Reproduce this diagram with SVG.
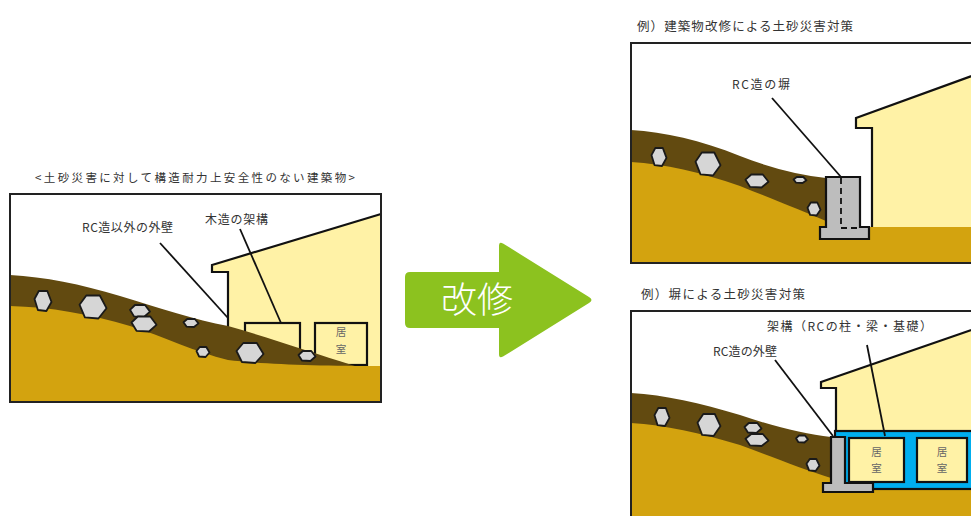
<svg xmlns="http://www.w3.org/2000/svg" width="971" height="516" viewBox="0 0 971 516">
<style>
.box{fill:none;stroke:#222;stroke-width:2}
.house{fill:#fff2a6}
.outline{fill:none;stroke:#111;stroke-width:2.2;stroke-linejoin:miter}
.dark{fill:#624a10}
.ground{fill:#d3a30f}
.rock{fill:#d6d6d6;stroke:#1a1a1a;stroke-width:1.8;stroke-linejoin:round}
.room{fill:#fff2a6;stroke:#111;stroke-width:2.2}
.wall{fill:#bdbdbd;stroke:#111;stroke-width:2.2;stroke-linejoin:miter}
.lead{stroke:#111;stroke-width:1.8;fill:none}
.lbl{font-family:"Noto Sans CJK JP","Noto Sans",sans-serif;font-size:12px;fill:#333}
.rm{font-family:"Noto Sans CJK JP","Noto Sans",sans-serif;font-size:10.5px;fill:#666;text-anchor:middle}
</style>

<rect x="0" y="0" width="971" height="516" fill="#ffffff"/>

<!-- Left panel -->
<g id="panel-left">
  <text class="lbl" x="35" y="182" textLength="320" lengthAdjust="spacing" style="font-size:11.5px">&lt;土砂災害に対して構造耐力上安全性のない建築物&gt;</text>
  <g id="left-house">
    <path class="house" d="M212,265 L381,214 L381,368 L228,368 L228,272 L212,272 Z"/>
    <path class="outline" d="M228,335 L228,272 L212,272 L212,265 L381,214"/>
  </g>
  <g id="left-room1"><rect class="room" x="245" y="323" width="55" height="32"/></g>
  <g id="left-room2">
    <rect class="room" x="315" y="323" width="52" height="42"/>
    <text class="rm" x="341" y="336">居</text>
    <text class="rm" x="341" y="353">室</text>
  </g>
  <path class="dark" d="M10,275 C45,277 80,284 120,296 C160,308 195,320 228,326 C270,338 310,352 355,366 L381,368 L381,402 L10,402 Z"/>
  <path class="ground" d="M10,306 C50,307 90,314 130,326 C165,337 195,352 228,360 C260,364 320,366 381,366 L381,402 L10,402 Z"/>
  <g id="left-rocks">
    <polygon class="rock" points="34.5,299 38.8,291 47.3,291 51.5,302 46.4,311 37.9,310"/>
    <polygon class="rock" points="79.5,304.7 86.3,295.5 99.8,295.5 106.5,308.2 98.4,318.5 84.9,317.4"/>
    <polygon class="rock" points="130,309.8 135,305 145,305 150,311.6 144,317 134,316.4"/>
    <polygon class="rock" points="131.5,322.5 137.8,316.5 150.3,316.5 156.5,324.8 149,331.5 136.5,330.8"/>
    <polygon class="rock" points="183.5,322.2 187.3,319 194.8,319 198.5,323.4 194,327 186.5,326.6"/>
    <polygon class="rock" points="196.5,351 199.8,347 206.3,347 209.5,352.5 205.6,357 199.1,356.5"/>
    <polygon class="rock" points="236.5,351 243.3,343 256.8,343 263.5,354 255.4,363 241.9,362"/>
    <polygon class="rock" points="298.5,355 302.8,351 311.3,351 315.5,356.5 310.4,361 301.9,360.5"/>
  </g>
  <rect class="box" x="10" y="194" width="371" height="208"/>
</g>

<!-- Arrow -->
<g id="arrow">
  <path fill="#8cc21f" d="M410,272 L499,272 L499,246 Q499,241 503,243.5 L589,297 Q594,300 589,303 L503,356.5 Q499,359 499,354 L499,328 L410,328 Q405,328 405,323 L405,277 Q405,272 410,272 Z"/>
  <text x="477" y="313" text-anchor="middle" style="font-family:'Noto Sans CJK JP',sans-serif;font-size:36px;fill:#ffffff;font-weight:300">改修</text>
</g>

<!-- Top-right panel -->
<g id="panel-top-right">
  <text class="lbl" x="637" y="31" textLength="216" lengthAdjust="spacing" style="font-size:12.5px">例）建築物改修による土砂災害対策</text>
  <g id="tr-house">
    <path class="house" d="M856,118 L980,73 L980,227 L872,227 L872,128 L856,128 Z"/>
    <path class="outline" d="M872,227 L872,128 L856,128 L856,118 L980,73"/>
  </g>
  <path class="dark" d="M631,130 C665,132 700,140 740,156 C770,168 800,175 826,178 L826,263 L631,263 Z"/>
  <path class="ground" d="M631,162 C665,164 700,172 740,186 C775,200 805,212 826,221 L826,227 L980,227 L980,263 L631,263 Z"/>
  <g id="tr-rocks">
    <polygon class="rock" points="651.5,155.2 655.3,148 662.8,148 666.5,157.9 662,166 654.5,165.1"/>
    <polygon class="rock" points="695.5,161.7 701.8,152.5 714.3,152.5 720.5,165.2 713,175.5 700.5,174.4"/>
    <polygon class="rock" points="745.5,179.7 751.3,174.5 762.8,174.5 768.5,181.7 761.6,187.5 750.1,186.9"/>
    <polygon class="rock" points="793.5,179.4 796.8,177 803.3,177 806.5,180.3 802.6,183 796.1,182.7"/>
    <polygon class="rock" points="807.5,207.7 810.8,202.5 817.3,202.5 820.5,209.7 816.6,215.5 810.1,214.9"/>
  </g>
  <g id="tr-wall">
    <path class="wall" d="M826,177 L860,177 L860,227 L869,227 L869,239 L820,239 L820,227 L826,227 Z"/>
    <path class="lead" d="M841,178 L841,228 L860,228" stroke-dasharray="6,4"/>
  </g>
  <rect class="box" x="631" y="43" width="360" height="220"/>
</g>

<!-- Bottom-right panel -->
<g id="panel-bottom-right">
  <text class="lbl" x="641" y="299" textLength="164" lengthAdjust="spacing" style="font-size:12.5px">例）塀による土砂災害対策</text>
  <g id="br-house">
    <path class="house" d="M821,382 L980,327 L980,431 L836,431 L836,388 L821,388 Z"/>
    <path class="outline" d="M836,431 L836,388 L821,388 L821,382 L980,327"/>
  </g>
  <path class="dark" d="M631,393 C665,395 700,403 740,415 C775,427 805,434 831,437 L831,520 L631,520 Z"/>
  <path class="ground" d="M631,423 C665,425 700,433 740,445 C775,458 805,470 831,478 L831,489 L980,489 L980,520 L631,520 Z"/>
  <g id="br-frame"><rect x="835" y="431" width="150" height="58" fill="#00aeef" stroke="#111" stroke-width="2.2"/></g>
  <g id="br-room1">
    <rect class="room" x="849" y="438" width="55" height="44"/>
    <text class="rm" x="876.5" y="456">居</text>
    <text class="rm" x="876.5" y="472">室</text>
  </g>
  <g id="br-room2">
    <rect class="room" x="917" y="438" width="50" height="44"/>
    <text class="rm" x="942" y="456">居</text>
    <text class="rm" x="942" y="472">室</text>
  </g>
  <g id="br-rocks">
    <polygon class="rock" points="654.5,415.2 658.3,408 665.8,408 669.5,417.9 665,426 657.5,425.1"/>
    <polygon class="rock" points="697.5,422.8 703.3,414 714.8,414 720.5,426.1 713.6,436 702.1,434.9"/>
    <polygon class="rock" points="744.5,427 748.8,423 757.3,423 761.5,428.5 756.4,433 747.9,432.5"/>
    <polygon class="rock" points="745.5,438.8 751.3,434 762.8,434 768.5,440.6 761.6,446 750.1,445.4"/>
    <polygon class="rock" points="796,438.3 799,435.5 805,435.5 808,439.4 804.4,442.5 798.4,442.2"/>
    <polygon class="rock" points="806.5,463.8 809.8,459 816.3,459 819.5,465.6 815.6,471 809.1,470.4"/>
  </g>
  <g id="br-wall"><path class="wall" d="M831,437 L845,437 L845,483 L873,483 L873,492 L823,492 L823,483 L831,483 Z"/></g>
  <rect class="box" x="631" y="311" width="360" height="220"/>
</g>

<!-- Connectors (leader lines) and labels -->
<g id="connectors">
  <line class="lead" x1="160" y1="243" x2="228" y2="318"/>
  <line class="lead" x1="240" y1="229" x2="281" y2="323"/>
  <line class="lead" x1="772" y1="98" x2="841" y2="177"/>
  <line class="lead" x1="775" y1="360" x2="833" y2="436"/>
  <line class="lead" x1="867" y1="345" x2="885" y2="436"/>
</g>
<g id="labels">
  <text class="lbl" x="82" y="232" textLength="91" lengthAdjust="spacing">RC造以外の外壁</text>
  <text class="lbl" x="205" y="224" textLength="63" lengthAdjust="spacing">木造の架構</text>
  <text class="lbl" x="732" y="89" textLength="58" lengthAdjust="spacing">RC造の塀</text>
  <text class="lbl" x="767" y="331" textLength="165" lengthAdjust="spacing">架構（RCの柱・梁・基礎）</text>
  <text class="lbl" x="713" y="356" textLength="64" lengthAdjust="spacing">RC造の外壁</text>
</g>
</svg>
